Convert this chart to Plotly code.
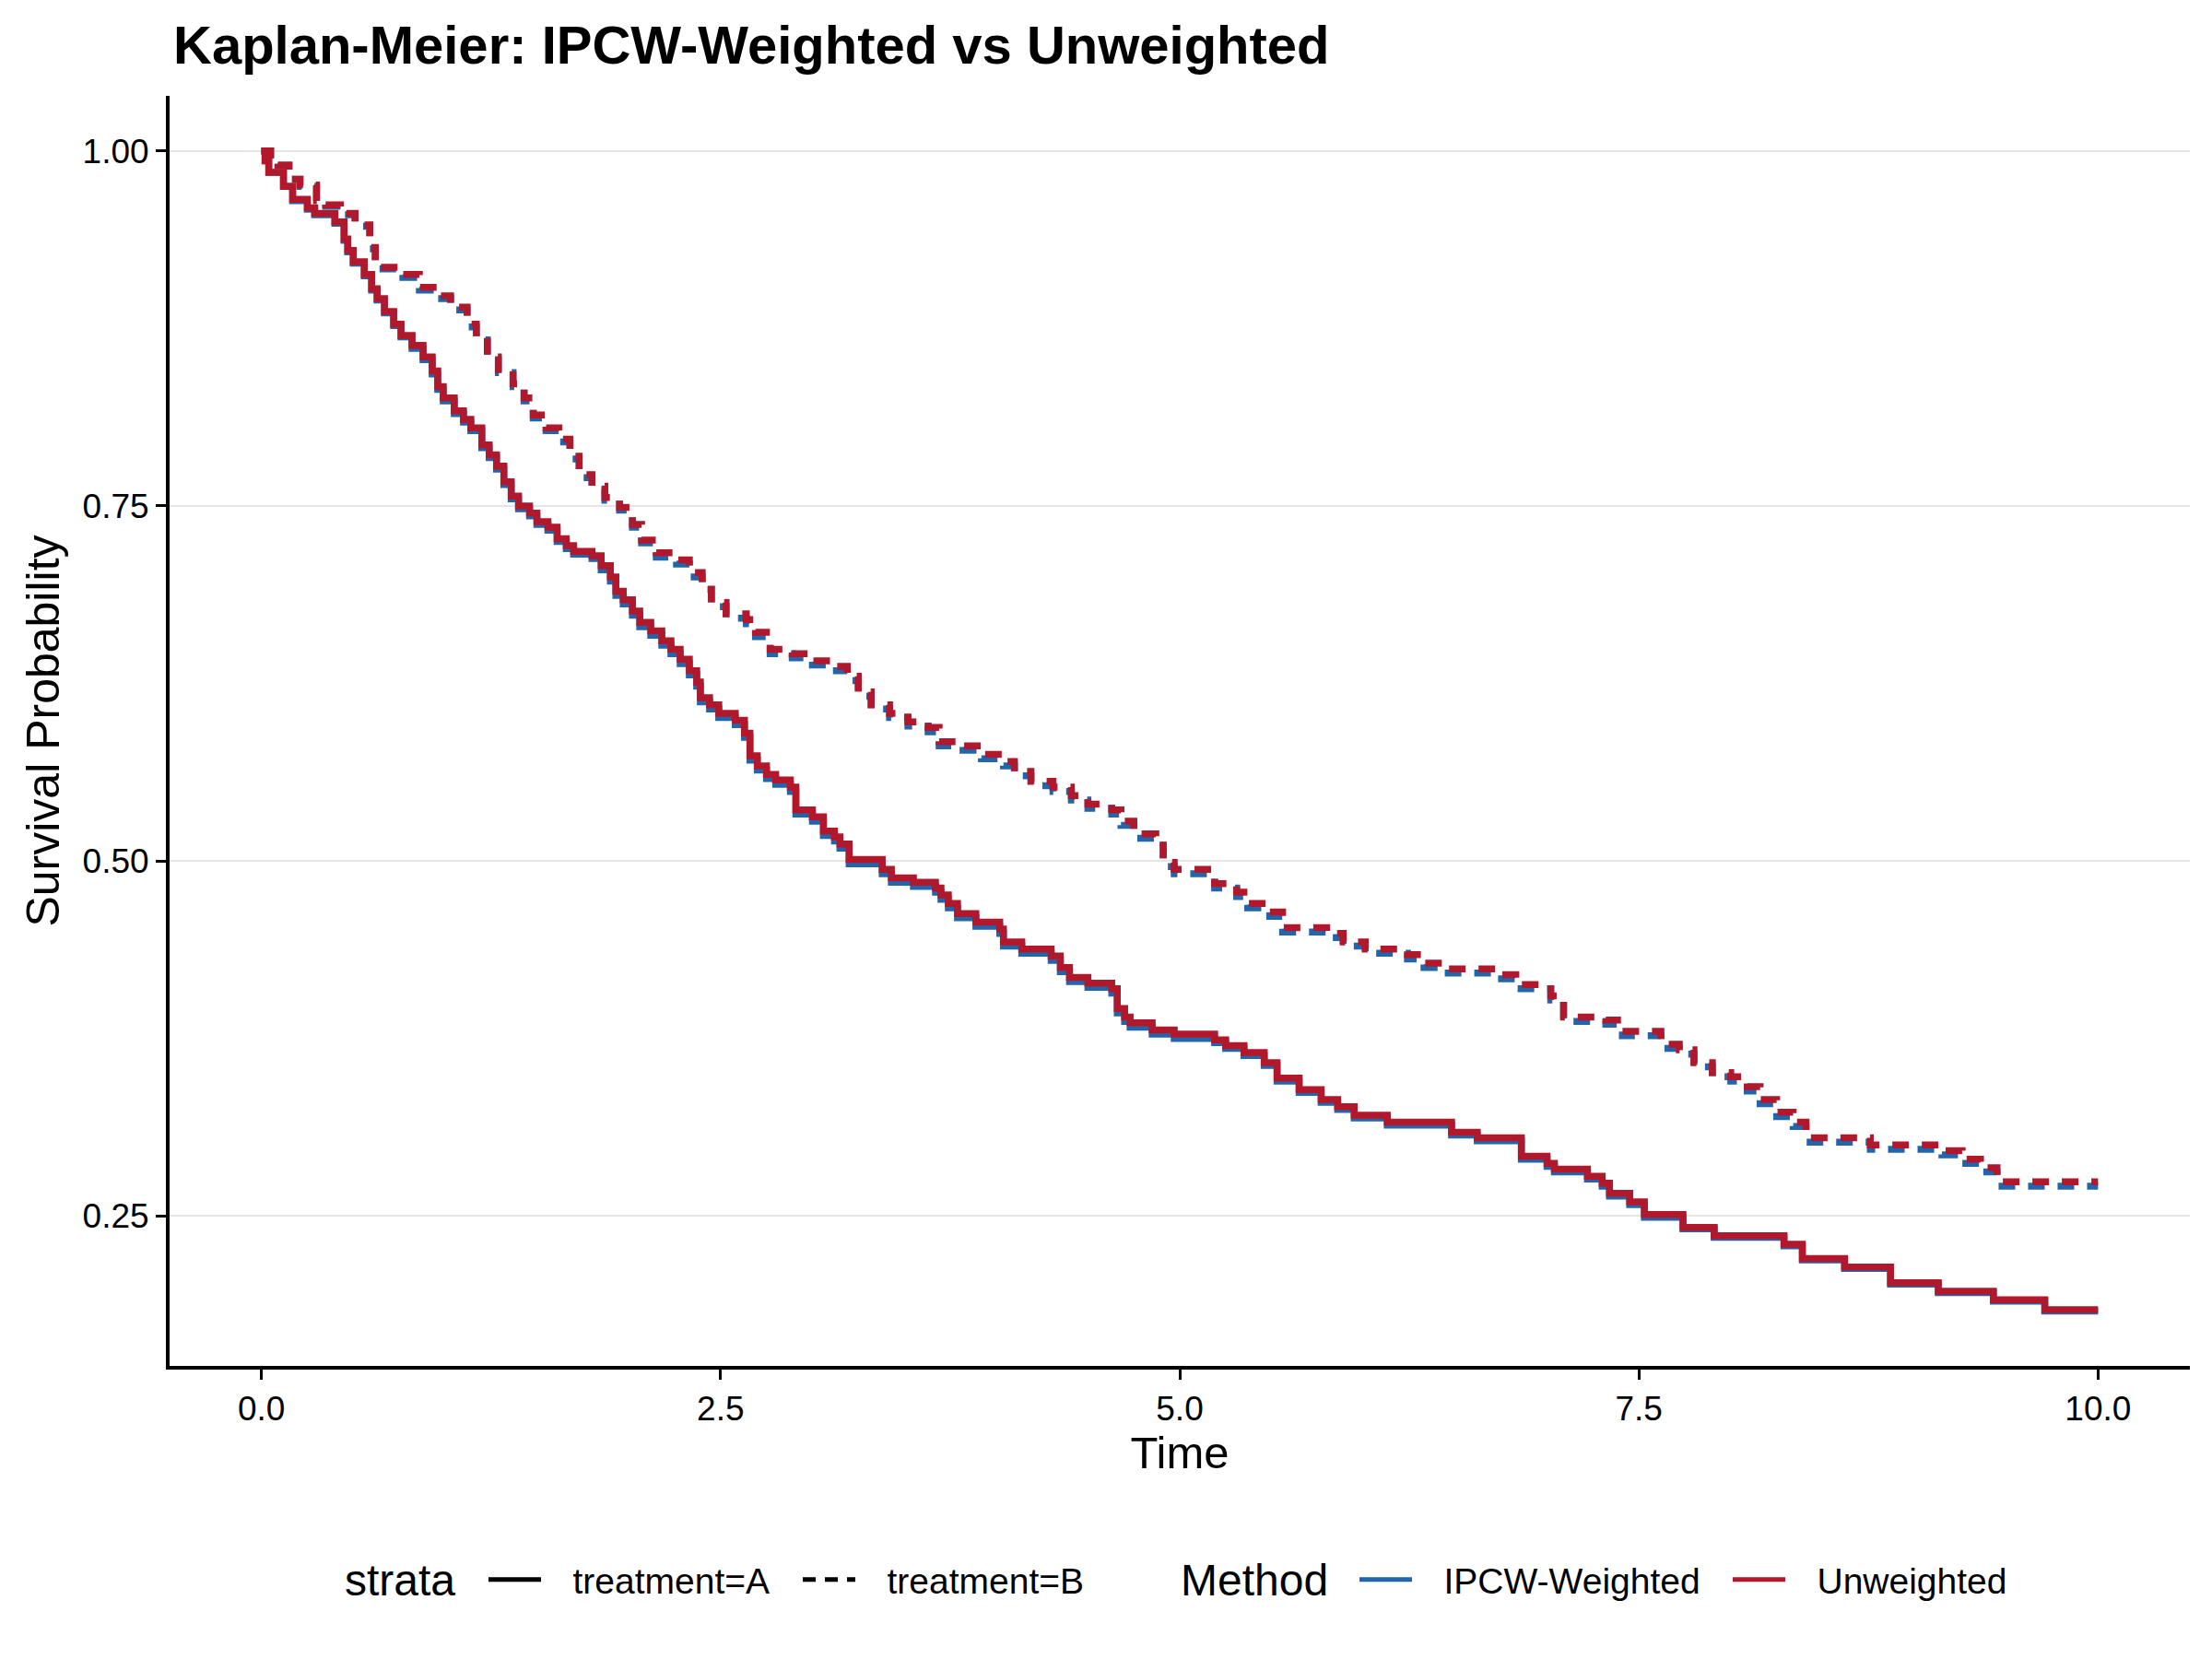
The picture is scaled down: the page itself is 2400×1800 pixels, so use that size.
import plotly.graph_objects as go

# ---------------- data ----------------
time_A = [0, 0.02, 0.04, 0.12, 0.17, 0.25, 0.29, 0.40, 0.45, 0.47,
          0.50, 0.56, 0.60, 0.63, 0.67, 0.72, 0.76, 0.82, 0.88, 0.93,
          0.96, 0.99, 1.05, 1.10, 1.14, 1.20, 1.24, 1.28, 1.32, 1.36,
          1.40, 1.46, 1.50, 1.56, 1.61, 1.66, 1.70, 1.80, 1.85, 1.90,
          1.93, 1.97, 2.02, 2.06, 2.12, 2.18, 2.23, 2.28, 2.33, 2.37,
          2.39, 2.44, 2.49, 2.58, 2.63, 2.66, 2.70, 2.75, 2.80, 2.88,
          2.91, 3.00, 3.06, 3.12, 3.15, 3.20, 3.38, 3.43, 3.55, 3.67,
          3.70, 3.74, 3.79, 3.89, 4.02, 4.04, 4.14, 4.30, 4.35, 4.40,
          4.50, 4.63, 4.66, 4.70, 4.73, 4.85, 4.97, 5.19, 5.25, 5.35,
          5.46, 5.53, 5.65, 5.77, 5.86, 5.95, 6.13, 6.48, 6.62, 6.86,
          7.00, 7.04, 7.22, 7.30, 7.34, 7.45, 7.53, 7.74, 7.91, 8.29,
          8.39, 8.62, 8.87, 9.13, 9.43, 9.71, 10.0]

surv_A_unweighted = [1.000, 0.993, 0.985, 0.975, 0.966, 0.960, 0.956, 0.950, 0.938, 0.930,
                     0.922, 0.913, 0.903, 0.896, 0.887, 0.878, 0.870, 0.863, 0.855, 0.845,
                     0.834, 0.826, 0.817, 0.811, 0.805, 0.793, 0.786, 0.778, 0.767, 0.757,
                     0.750, 0.745, 0.739, 0.735, 0.727, 0.722, 0.718, 0.715, 0.708, 0.700,
                     0.690, 0.684, 0.676, 0.668, 0.662, 0.655, 0.649, 0.642, 0.634, 0.626,
                     0.615, 0.610, 0.604, 0.599, 0.590, 0.574, 0.567, 0.561, 0.557, 0.552,
                     0.536, 0.531, 0.521, 0.517, 0.512, 0.501, 0.494, 0.488, 0.485, 0.481,
                     0.476, 0.470, 0.463, 0.457, 0.452, 0.443, 0.438, 0.433, 0.425, 0.418,
                     0.414, 0.410, 0.396, 0.390, 0.386, 0.381, 0.378, 0.374, 0.370, 0.365,
                     0.358, 0.347, 0.339, 0.332, 0.327, 0.321, 0.316, 0.309, 0.305, 0.292,
                     0.287, 0.283, 0.278, 0.273, 0.266, 0.260, 0.251, 0.242, 0.236, 0.230,
                     0.220, 0.214, 0.203, 0.197, 0.191, 0.184, 0.184]

surv_A_ipcw = [1.000, 0.993, 0.985, 0.975, 0.965, 0.959, 0.955, 0.949, 0.937, 0.929,
               0.921, 0.912, 0.902, 0.895, 0.886, 0.877, 0.869, 0.861, 0.853, 0.843,
               0.832, 0.824, 0.815, 0.809, 0.803, 0.791, 0.784, 0.776, 0.765, 0.755,
               0.748, 0.743, 0.737, 0.733, 0.725, 0.720, 0.716, 0.713, 0.705, 0.697,
               0.687, 0.681, 0.673, 0.665, 0.659, 0.652, 0.646, 0.639, 0.631, 0.623,
               0.612, 0.607, 0.601, 0.596, 0.587, 0.571, 0.564, 0.558, 0.554, 0.549,
               0.533, 0.528, 0.518, 0.514, 0.509, 0.498, 0.491, 0.485, 0.482, 0.478,
               0.473, 0.467, 0.460, 0.454, 0.449, 0.440, 0.435, 0.430, 0.422, 0.415,
               0.411, 0.407, 0.393, 0.387, 0.383, 0.378, 0.375, 0.372, 0.368, 0.363,
               0.356, 0.345, 0.337, 0.330, 0.325, 0.319, 0.314, 0.307, 0.303, 0.290,
               0.285, 0.281, 0.276, 0.271, 0.264, 0.258, 0.249, 0.241, 0.235, 0.229,
               0.219, 0.213, 0.202, 0.196, 0.190, 0.183, 0.183]

time_B = [0, 0.05, 0.09, 0.15, 0.21, 0.30, 0.35, 0.43, 0.51, 0.59,
          0.62, 0.77, 0.86, 0.96, 1.03, 1.12, 1.17, 1.23, 1.29, 1.37,
          1.43, 1.48, 1.55, 1.62, 1.68, 1.73, 1.80, 1.87, 1.95, 2.02,
          2.07, 2.15, 2.26, 2.33, 2.40, 2.45, 2.53, 2.64, 2.69, 2.77,
          2.89, 3.00, 3.10, 3.19, 3.25, 3.32, 3.42, 3.52, 3.63, 3.69,
          3.82, 3.92, 4.04, 4.10, 4.19, 4.31, 4.41, 4.50, 4.63, 4.68,
          4.75, 4.87, 4.91, 4.97, 5.19, 5.31, 5.37, 5.49, 5.56, 5.80,
          5.89, 6.01, 6.24, 6.33, 6.44, 6.72, 6.83, 7.02, 7.09, 7.32,
          7.41, 7.62, 7.72, 7.80, 7.90, 8.00, 8.09, 8.16, 8.25, 8.34,
          8.41, 8.76, 9.15, 9.26, 9.36, 9.45, 10.0]

surv_B_unweighted = [1.000, 0.993, 0.990, 0.980, 0.976, 0.965, 0.962, 0.956, 0.948, 0.932,
                     0.918, 0.913, 0.904, 0.898, 0.890, 0.878, 0.869, 0.855, 0.846, 0.836,
                     0.826, 0.814, 0.805, 0.797, 0.785, 0.772, 0.764, 0.756, 0.749, 0.737,
                     0.726, 0.717, 0.712, 0.703, 0.694, 0.682, 0.674, 0.670, 0.661, 0.649,
                     0.646, 0.641, 0.637, 0.630, 0.619, 0.610, 0.604, 0.598, 0.594, 0.584,
                     0.581, 0.575, 0.570, 0.563, 0.556, 0.552, 0.546, 0.540, 0.536, 0.528,
                     0.519, 0.514, 0.499, 0.494, 0.484, 0.478, 0.470, 0.464, 0.453, 0.449,
                     0.443, 0.438, 0.434, 0.428, 0.424, 0.420, 0.413, 0.405, 0.390, 0.388,
                     0.380, 0.371, 0.367, 0.358, 0.351, 0.348, 0.341, 0.332, 0.323, 0.316,
                     0.305, 0.300, 0.296, 0.290, 0.284, 0.274, 0.274]

surv_B_ipcw = [1.000, 0.993, 0.990, 0.980, 0.975, 0.964, 0.961, 0.955, 0.947, 0.931,
               0.917, 0.911, 0.902, 0.896, 0.888, 0.876, 0.867, 0.853, 0.844, 0.834,
               0.824, 0.812, 0.803, 0.795, 0.783, 0.770, 0.762, 0.754, 0.747, 0.735,
               0.724, 0.714, 0.709, 0.700, 0.691, 0.679, 0.671, 0.667, 0.658, 0.646,
               0.643, 0.638, 0.634, 0.627, 0.616, 0.607, 0.601, 0.595, 0.591, 0.581,
               0.578, 0.572, 0.567, 0.560, 0.553, 0.549, 0.543, 0.537, 0.533, 0.525,
               0.516, 0.511, 0.496, 0.491, 0.481, 0.475, 0.467, 0.461, 0.450, 0.446,
               0.440, 0.435, 0.431, 0.425, 0.421, 0.417, 0.410, 0.402, 0.387, 0.385,
               0.377, 0.368, 0.364, 0.355, 0.348, 0.345, 0.338, 0.329, 0.320, 0.313,
               0.302, 0.297, 0.293, 0.287, 0.281, 0.271, 0.271]

x_tickvals = [0, 2.5, 5, 7.5, 10]
x_ticktext = ["0.0", "2.5", "5.0", "7.5", "10.0"]
y_tickvals = [0.25, 0.50, 0.75, 1.00]
y_ticktext = ["0.25", "0.50", "0.75", "1.00"]

strata_title = "strata"
strata_labels = ["treatment=A", "treatment=B"]
method_title = "Method"
method_labels = ["IPCW-Weighted", "Unweighted"]

# ---------------- styles ----------------
BLUE = "#2166AC"
RED = "#B2182B"
LW = 7.5
DASH = "18px,14px"
FONT = "Liberation Sans, Arial, Helvetica, sans-serif"
PAD = "\u00a0\u00a0\u2009"   # gap between legend key and its label

# figure-pixel geometry (page has an 8px body margin)
L, R, T, B = 176, 32, 96, 326
W, H = 2400, 1800
PW, PH = W - L - R, H - T - B


def px(x):
    return (x - L) / PW


def py(y):
    return (H - B - y) / PH


fig = go.Figure()

curves = [
    (time_A, surv_A_ipcw, BLUE, "solid"),
    (time_B, surv_B_ipcw, BLUE, DASH),
    (time_A, surv_A_unweighted, RED, "solid"),
    (time_B, surv_B_unweighted, RED, DASH),
]
for t, s, c, d in curves:
    fig.add_trace(go.Scatter(x=t, y=s, mode="lines", line_shape="hv",
                             line=dict(color=c, width=LW, dash=d),
                             showlegend=False, hoverinfo="skip"))

# legend entries
fig.add_trace(go.Scatter(x=[None], y=[None], mode="lines", name=PAD + strata_labels[0],
                         line=dict(color="black", width=5), legend="legend"))
fig.add_trace(go.Scatter(x=[None], y=[None], mode="lines", name=PAD + strata_labels[1],
                         line=dict(color="black", width=5, dash="14px,10px"), legend="legend"))
fig.add_trace(go.Scatter(x=[None], y=[None], mode="lines", name=PAD + method_labels[0],
                         line=dict(color=BLUE, width=5), legend="legend2"))
fig.add_trace(go.Scatter(x=[None], y=[None], mode="lines", name=PAD + method_labels[1],
                         line=dict(color=RED, width=5), legend="legend2"))

axis_common = dict(showline=True, linecolor="black", linewidth=4, mirror=False,
                   ticks="outside", ticklen=11, tickwidth=3, tickcolor="black",
                   zeroline=False, tickfont=dict(size=37, color="black", family=FONT))

LEG_Y = py(1706)

fig.update_layout(
    width=W, height=H,
    margin=dict(l=L, r=R, t=T, b=B),
    paper_bgcolor="white", plot_bgcolor="white",
    font=dict(family=FONT, color="black"),
    title=dict(text="<b>Kaplan-Meier: IPCW-Weighted vs Unweighted</b>",
               x=180 / W, xref="container", xanchor="left",
               y=1 - 41 / H, yref="container", yanchor="middle",
               font=dict(size=58, color="black", family=FONT)),
    xaxis=dict(range=[-0.5, 10.5], tickvals=x_tickvals, ticktext=x_ticktext,
               showgrid=False,
               title=dict(text="Time", font=dict(size=49, color="black"), standoff=8),
               **axis_common),
    yaxis=dict(range=[0.1444, 1.0388], tickvals=y_tickvals, ticktext=y_ticktext,
               showgrid=True, gridcolor="#E5E5E5", gridwidth=2,
               title=dict(text="Survival Probability", font=dict(size=50, color="black"), standoff=10),
               **axis_common),
    legend=dict(orientation="h", x=px(517), xanchor="left", y=LEG_Y, yanchor="middle",
                font=dict(size=39), bgcolor="rgba(0,0,0,0)", itemwidth=57,
                entrywidth=269, entrywidthmode="pixels"),
    legend2=dict(orientation="h", x=px(1462), xanchor="left", y=LEG_Y, yanchor="middle",
                 font=dict(size=39), bgcolor="rgba(0,0,0,0)", itemwidth=57,
                 entrywidth=333, entrywidthmode="pixels"),
    annotations=[
        dict(text=strata_title, x=px(364), y=LEG_Y, xref="paper", yref="paper",
             xanchor="left", yanchor="middle", showarrow=False,
             font=dict(size=48, color="black")),
        dict(text=method_title, x=px(1271), y=LEG_Y, xref="paper", yref="paper",
             xanchor="left", yanchor="middle", showarrow=False,
             font=dict(size=48, color="black")),
    ],
)

fig.write_html("out.html")
